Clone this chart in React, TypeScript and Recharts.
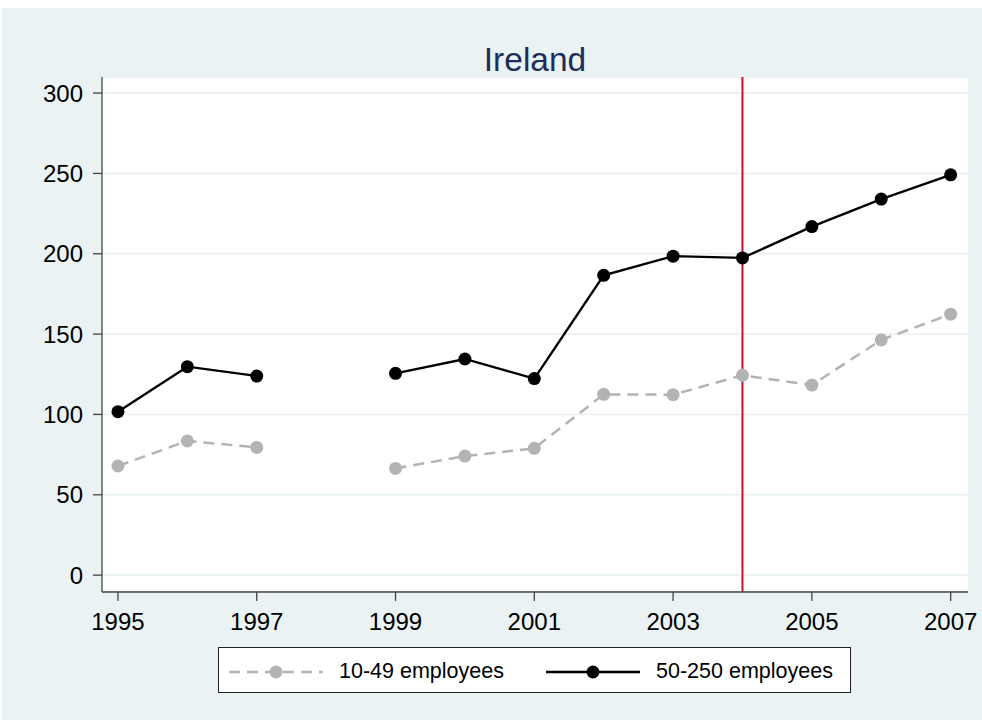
import React from "react";
import { LineChart, Line, XAxis, YAxis, CartesianGrid, ReferenceLine, Legend } from "recharts";

const years = [1995, 1996, 1997, 1998, 1999, 2000, 2001, 2002, 2003, 2004, 2005, 2006, 2007];
const small = [67.9, 83.5, 79.5, null, 66.4, 74.1, 78.9, 112.5, 112.3, 124.4, 118.3, 146.4, 162.4];
const medium = [101.7, 129.7, 123.9, null, 125.6, 134.5, 122.3, 186.6, 198.5, 197.4, 216.9, 234.0, 249.1];
const xTicks = [1995, 1997, 1999, 2001, 2003, 2005, 2007];
const yTicks = [0, 50, 100, 150, 200, 250, 300];
const seriesNames = ["10-49 employees", "50-250 employees"];
const markerYear = 2004;
const title = "Ireland";

const data = years.map((y, i) => ({ year: y, small: small[i], medium: medium[i] }));

const FONT = "'Liberation Sans', Arial, Helvetica, sans-serif";
const GRAY = "#B3B3B3";
const BG = "#EAF2F3";

function LegendBox() {
  const item = (left: number, name: string, color: string, dashed: boolean) => (
    <div style={{ position: "absolute", left, top: 0, height: 46, display: "flex", alignItems: "center" }}>
      <svg width={94} height={46} style={{ display: "block" }}>
        <line x1={0} y1={24} x2={94} y2={24} stroke={color} strokeWidth={dashed ? 2.5 : 2.3} strokeDasharray={dashed ? "11 7" : undefined} />
        <circle cx={47} cy={24} r={6.5} fill={color} />
      </svg>
      <span style={{ marginLeft: 16, fontSize: 21.5, color: "#000", fontFamily: FONT, whiteSpace: "nowrap" }}>{name}</span>
    </div>
  );
  return (
    <div style={{ position: "relative", width: 631, height: 44, background: "#fff", border: "1px solid #222" }}>
      {item(10, seriesNames[0], GRAY, true)}
      {item(327, seriesNames[1], "#000", false)}
    </div>
  );
}

export default function App() {
  return (
    <div style={{ position: "absolute", left: 2, top: 8, width: 980, height: 712, background: BG, fontFamily: FONT }}>
      <div style={{ position: "absolute", left: 0, top: 32, width: 1066, textAlign: "center", fontSize: 33.5, color: "#1E2D59", lineHeight: "40px" }}>
        {title}
      </div>
      <LineChart width={980} height={712} data={data} margin={{ top: 69, right: 14, bottom: 88, left: 0 }}>
        <CartesianGrid horizontal vertical={false} fill="#FFFFFF" stroke="#E6EFF1" strokeWidth={1.5} />
        <XAxis
          dataKey="year"
          type="number"
          domain={[1994.77, 2007.25]}
          ticks={xTicks}
          allowDataOverflow
          height={40}
          tickSize={9}
          tickMargin={12}
          stroke="#444"
          strokeWidth={1.3}
          tick={{ fill: "#000", fontSize: 24, fontFamily: FONT }}
        />
        <YAxis
          type="number"
          domain={[-10.5, 310]}
          ticks={yTicks}
          allowDataOverflow
          width={100}
          tickSize={9}
          tickMargin={10}
          stroke="#444"
          strokeWidth={1.3}
          tick={{ fill: "#000", fontSize: 24, fontFamily: FONT }}
        />
        <ReferenceLine x={markerYear} stroke="#C8102E" strokeWidth={2} />
        <Line
          dataKey="small"
          name={seriesNames[0]}
          stroke={GRAY}
          strokeWidth={2.5}
          strokeDasharray="11 7"
          dot={{ r: 6.5, fill: GRAY, stroke: "none" }}
          isAnimationActive={false}
        />
        <Line
          dataKey="medium"
          name={seriesNames[1]}
          stroke="#000"
          strokeWidth={2.3}
          dot={{ r: 6.5, fill: "#000", stroke: "none" }}
          isAnimationActive={false}
        />
        <Legend
          layout="horizontal"
          verticalAlign="middle"
          align="center"
          content={() => <LegendBox />}
          wrapperStyle={{ position: "absolute", left: 216, top: 639, width: 633, height: 46 }}
        />
      </LineChart>
    </div>
  );
}
